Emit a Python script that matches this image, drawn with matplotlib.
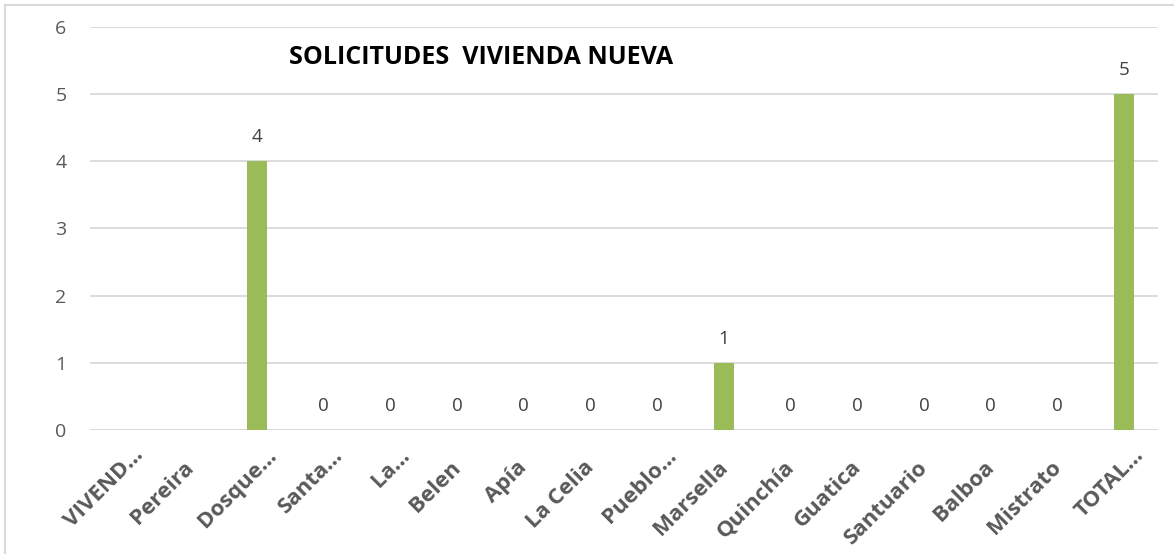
import numpy as np
import matplotlib
matplotlib.use("Agg")
import matplotlib.pyplot as plt
from matplotlib.lines import Line2D
from matplotlib.transforms import ScaledTranslation

plt.rcParams["font.family"] = ["Open Sans", "DejaVu Sans"]

categorias = ["VIVEND…", "Pereira", "Dosque…", "Santa…", "La…", "Belen", "Apía",
              "La Celia", "Pueblo…", "Marsella", "Quinchía", "Guatica", "Santuario",
              "Balboa", "Mistrato", "TOTAL…"]
valores = [np.nan, np.nan, 4, 0, 0, 0, 0, 0, 0, 1, 0, 0, 0, 0, 0, 5]
yticks = [0, 1, 2, 3, 4, 5, 6]

GREEN = "#9bbb59"; GRID = "#d9d9d9"; TXT = "#595959"

fig = plt.figure(figsize=(11.74, 5.54), dpi=100)
ax = fig.add_axes([0.0767, 0.2238, 0.9093, 0.7275])
x = np.arange(len(categorias))
vals = np.array(valores, dtype=float)
ax.bar(x, np.nan_to_num(vals), width=0.3, color=GREEN, zorder=3)
for xi, v in zip(x, vals):
    if not np.isnan(v):
        ax.text(xi, v + 0.36, f"{v:g}", ha="center", va="center", fontsize=13.5, color="#404040")

ax.set_xlim(-0.5, len(categorias) - 0.5)
ax.set_ylim(0, 6)
ax.set_yticks(yticks)
ax.yaxis.grid(True, color=GRID, lw=1.3, zorder=0)
for s in ax.spines.values():
    s.set_visible(False)
ax.axhline(0, color=GRID, lw=2, zorder=2)
ax.tick_params(axis="both", length=0)
ax.tick_params(axis="y", labelsize=14, colors=TXT, pad=17)
ax.set_xticks(x)
ax.set_xticklabels(categorias, rotation=45, ha="right", rotation_mode="anchor",
                   fontsize=16, fontweight="bold", color=TXT)
ax.tick_params(axis="x", pad=10)
# etiquetas truncadas (…) quedan un poco más arriba/derecha en el original
for lbl in ax.get_xticklabels():
    dx, dy = (0.09, -0.01) if lbl.get_text().endswith("…") else (-0.07, -0.13)
    lbl.set_transform(lbl.get_transform() + ScaledTranslation(dx, dy, fig.dpi_scale_trans))

ax.text(0.186, 0.925, "SOLICITUDES  VIVIENDA NUEVA", transform=ax.transAxes,
        fontsize=18, fontweight="bold", color="black", ha="left", va="center")

fig.add_artist(Line2D([5 / 1174, 5 / 1174], [0, 1 - 5 / 554], color=GRID, lw=1.5))
fig.add_artist(Line2D([5 / 1174, 1], [1 - 5 / 554, 1 - 5 / 554], color=GRID, lw=1.5))

fig.savefig("out.png", dpi=100, facecolor="white")
